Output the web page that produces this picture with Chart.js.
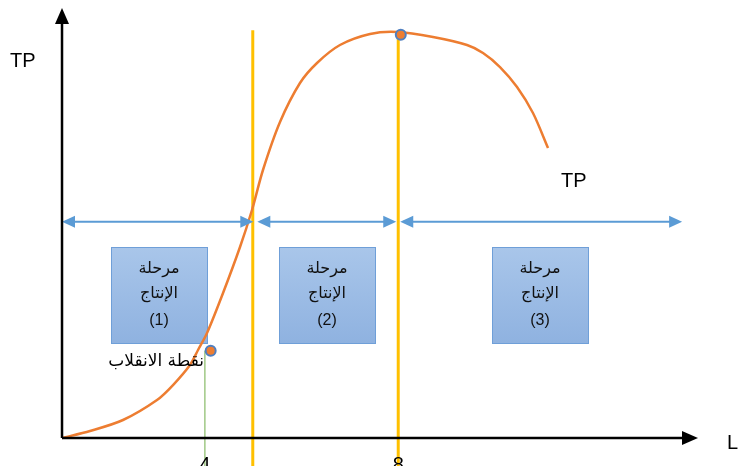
<!DOCTYPE html>
<html>
<head>
<meta charset="utf-8">
<script src="https://cdn.jsdelivr.net/npm/chart.js@4/dist/chart.umd.min.js"></script>
<style>
  html, body { margin: 0; padding: 0; background: #fff; }
  #wrap { width: 740px; height: 466px; }
</style>
</head>
<body>
<div id="wrap"><canvas id="tpChart"></canvas></div>
<script>
// TP curve (L, TP)
const curveL  = [0, 4.39, 9.56, 14.89, 17.4, 20.06, 21.32, 22.73, 25.24, 27.9, 29.78, 31.5, 34.17, 37.3, 39.97, 43.57, 48.28, 52.51, 58.15, 63.48, 65.99, 68.65, 71.32, 73.82, 76.18];
const curveTP = [0, 1.64, 4.21, 8.88, 12.38, 17.06, 20.56, 24.53, 33.88, 44.63, 53.27, 62.62, 73.83, 82.94, 87.62, 91.82, 94.39, 94.86, 93.69, 91.82, 89.95, 86.68, 82.01, 75.93, 67.76];

// stage limits on L (arrows), dividers and special points
const stageBounds = [0, 30.3, 52.7, 97.2];
const stageLabels = ['(1)', '(2)', '(3)'];
const stageTitle = ['مرحلة', 'الإنتاج'];
const dividers = [29.9, 52.7];
const dividerTop = [95.3, 93.9];
const inflection = { L: 23.3, TP: 20.4 };
const maximum = { L: 53.1, TP: 94.2 };
const tickPos = [22.4, 52.7];
const tickLabels = ['4', '8'];
const arrowLevel = 50.5;

const X_MIN = -9.72, X_MAX = 106.27, Y_MIN = -6.54, Y_MAX = 102.34;

function arrowHead(ctx, x, y, dir, len, half, color) {
  ctx.save();
  ctx.fillStyle = color;
  ctx.beginPath();
  if (dir === 'right') { ctx.moveTo(x, y); ctx.lineTo(x - len, y - half); ctx.lineTo(x - len, y + half); }
  if (dir === 'left')  { ctx.moveTo(x, y); ctx.lineTo(x + len, y - half); ctx.lineTo(x + len, y + half); }
  if (dir === 'up')    { ctx.moveTo(x, y); ctx.lineTo(x - half, y + len); ctx.lineTo(x + half, y + len); }
  ctx.closePath();
  ctx.fill();
  ctx.restore();
}

const diagram = {
  id: 'diagram',
  beforeDatasetsDraw(chart) {
    const ctx = chart.ctx, xs = chart.scales.x;
    // stage boxes
    ctx.save();
    stageLabels.forEach((lab, i) => {
      const cx = (xs.getPixelForValue(stageBounds[i]) + xs.getPixelForValue(stageBounds[i + 1])) / 2;
      const w = 96, h = 96, top = 247, left = Math.round(cx - w / 2);
      const g = ctx.createLinearGradient(0, top, 0, top + h);
      g.addColorStop(0, '#a9c6ea');
      g.addColorStop(1, '#8fb2e0');
      ctx.fillStyle = g;
      ctx.fillRect(left, top, w, h);
      ctx.strokeStyle = '#6f9fd8';
      ctx.lineWidth = 1;
      ctx.strokeRect(left + 0.5, top + 0.5, w, h);
      ctx.fillStyle = '#111';
      ctx.textAlign = 'center';
      ctx.textBaseline = 'middle';
      ctx.font = '16px "DejaVu Sans", sans-serif';
      ctx.fillText(stageTitle[0], left + w / 2, top + 22);
      ctx.fillText(stageTitle[1], left + w / 2, top + 47);
      ctx.font = '16px "Liberation Sans", sans-serif';
      ctx.fillText(lab, left + w / 2, top + 74);
    });
    ctx.restore();
  },
  afterDatasetsDraw(chart) {
    const ctx = chart.ctx, xs = chart.scales.x, ys = chart.scales.y;
    const ox = xs.getPixelForValue(0), oy = ys.getPixelForValue(0);
    // blue arrowheads
    const ay = ys.getPixelForValue(arrowLevel);
    for (let i = 0; i < stageLabels.length; i++) {
      const a = xs.getPixelForValue(stageBounds[i]) + (i === 0 ? 0 : 2);
      const b = xs.getPixelForValue(stageBounds[i + 1]) - (i === stageLabels.length - 1 ? 0 : 2);
      arrowHead(ctx, a, ay, 'left', 13, 6, '#5b9bd5');
      arrowHead(ctx, b, ay, 'right', 13, 6, '#5b9bd5');
    }
    // axes
    ctx.save();
    ctx.strokeStyle = '#000';
    ctx.lineWidth = 2.5;
    ctx.beginPath();
    ctx.moveTo(ox, oy); ctx.lineTo(ox, 22);
    ctx.moveTo(ox, oy); ctx.lineTo(684, oy);
    ctx.stroke();
    ctx.restore();
    arrowHead(ctx, ox, 8, 'up', 16, 7, '#000');
    arrowHead(ctx, 698, oy, 'right', 16, 7, '#000');
    // texts
    ctx.save();
    ctx.fillStyle = '#000';
    ctx.font = '20px "Liberation Sans", sans-serif';
    ctx.textBaseline = 'middle';
    ctx.textAlign = 'left';
    ctx.fillText('TP', 10, 61);
    ctx.fillText('TP', 561, 181);
    ctx.fillText('L', 727, 443);
    ctx.textAlign = 'center';
    ctx.textBaseline = 'top';
    tickLabels.forEach((t, i) => ctx.fillText(t, xs.getPixelForValue(tickPos[i]), 455));
    ctx.font = '17px "DejaVu Sans", sans-serif';
    ctx.textAlign = 'right';
    ctx.textBaseline = 'middle';
    ctx.fillText('نقطة الانقلاب', 204, 362);
    ctx.restore();
  }
};

const datasets = [
  {
    label: 'points',
    type: 'scatter',
    data: [{ x: inflection.L, y: inflection.TP }, { x: maximum.L, y: maximum.TP }],
    pointRadius: 5,
    pointBackgroundColor: '#ed7d31',
    pointBorderColor: '#4f7fc0',
    pointBorderWidth: 2,
    order: 0
  },
  {
    label: 'TP',
    data: curveL.map((l, i) => ({ x: l, y: curveTP[i] })),
    borderColor: '#ed7d31',
    borderWidth: 2.5,
    tension: 0.3,
    pointRadius: 0,
    order: 1
  }
];
dividers.forEach((d, i) => datasets.push({
  label: 'divider' + i,
  data: [{ x: d, y: Y_MIN }, { x: d, y: dividerTop[i] }],
  borderColor: '#ffc000',
  borderWidth: 3,
  pointRadius: 0,
  order: 2
}));
stageLabels.forEach((s, i) => datasets.push({
  label: 'stage' + i,
  data: [{ x: stageBounds[i] + (i === 0 ? 0.5 : 0.8), y: arrowLevel }, { x: stageBounds[i + 1] - (i === stageLabels.length - 1 ? 0.5 : 0.8), y: arrowLevel }],
  borderColor: '#5b9bd5',
  borderWidth: 2,
  pointRadius: 0,
  order: 3
}));
datasets.push({
  label: 'inflectionLine',
  data: [{ x: tickPos[0], y: Y_MIN }, { x: tickPos[0], y: inflection.TP }],
  borderColor: '#70ad47',
  borderWidth: 1,
  pointRadius: 0,
  order: 4
});

new Chart(document.getElementById('tpChart'), {
  type: 'line',
  data: { datasets },
  options: {
    responsive: true,
    maintainAspectRatio: false,
    animation: false,
    layout: { padding: 0, autoPadding: false },
    scales: {
      x: { type: 'linear', min: X_MIN, max: X_MAX, display: false },
      y: { type: 'linear', min: Y_MIN, max: Y_MAX, display: false }
    },
    plugins: {
      legend: { display: false },
      tooltip: { enabled: false }
    }
  },
  plugins: [diagram]
});
</script>
</body>
</html>
